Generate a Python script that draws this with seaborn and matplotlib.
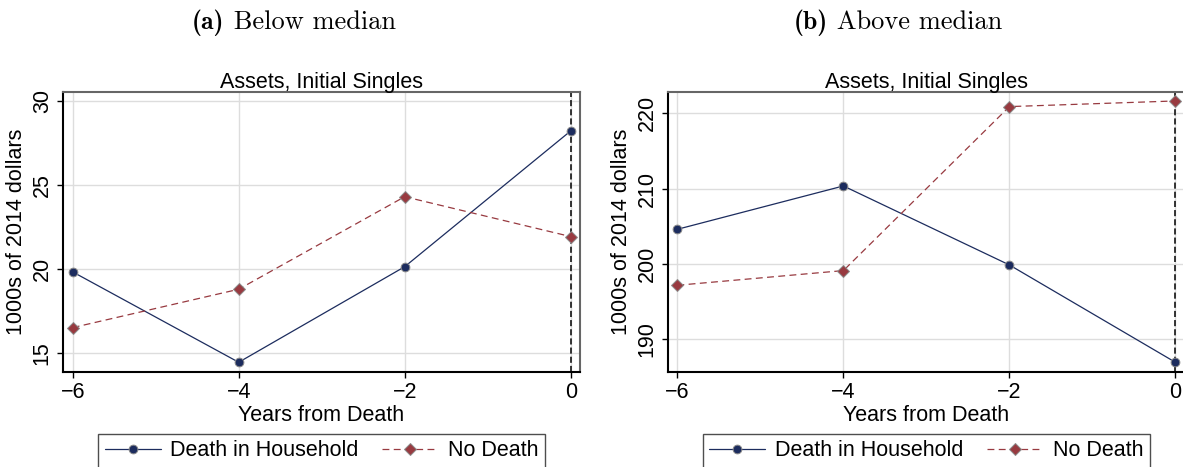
import numpy as np
import pandas as pd
import matplotlib
matplotlib.use('Agg')
import matplotlib.pyplot as plt
import seaborn as sns

# values
years = [-6, -4, -2, 0]
groups = ['Death in Household', 'No Death']

below_death = [19.84, 14.47, 20.15, 28.22]
below_nodeath = [16.53, 18.81, 24.31, 21.94]
above_death = [204.58, 210.34, 199.84, 186.9]
above_nodeath = [197.14, 199.09, 220.89, 221.64]

below_yticks = [15, 20, 25, 30]
above_yticks = [190, 200, 210, 220]
xticks = [-6, -4, -2, 0]

NAVY = '#1c2c5e'
MAROON = '#983a40'
FS = 15.5


def make_frame(death, nodeath):
    df = pd.DataFrame({
        'years': years * 2,
        'assets': death + nodeath,
        'group': [groups[0]] * len(years) + [groups[1]] * len(years),
    })
    return df


sns.set_style('white')
plt.rcParams['font.family'] = ['Liberation Sans', 'DejaVu Sans']
plt.rcParams['text.color'] = 'black'
plt.rcParams['axes.labelcolor'] = 'black'
plt.rcParams['xtick.color'] = 'black'
plt.rcParams['ytick.color'] = 'black'

fig = plt.figure(figsize=(11.83, 4.67), dpi=100)
W, H = 1183, 467
ax_w, ax_h = 517 / W, 280 / H
ax_b = (H - 371.7) / H
ax1 = fig.add_axes([63 / W, ax_b, ax_w, ax_h])
ax2 = fig.add_axes([667.7 / W, ax_b, ax_w, ax_h])

panels = [
    (ax1, make_frame(below_death, below_nodeath), below_yticks, (13.91, 30.55)),
    (ax2, make_frame(above_death, above_nodeath), above_yticks, (185.65, 222.87)),
]

for ax, df, yt, ylim in panels:
    ax.set_axisbelow(True)
    ax.grid(True, color='#dddddd', lw=1.0)
    sns.lineplot(data=df, x='years', y='assets', hue='group', style='group',
                 palette={groups[0]: NAVY, groups[1]: MAROON},
                 markers={groups[0]: 'o', groups[1]: 'D'},
                 dashes={groups[0]: '', groups[1]: (5.5, 3.5)},
                 markersize=6.3, markeredgecolor='#8c8c8c', markeredgewidth=0.7,
                 lw=0.9, ax=ax)
    ax.axvline(0, color='black', lw=1.1, ls=(0, (4, 2)), zorder=1.5)

    ax.set_xlim(-6.117, 0.112)
    ax.set_ylim(*ylim)
    ax.set_xticks(xticks)
    ax.set_yticks(yt)
    ax.tick_params(axis='both', direction='out', length=4.3, width=1, color='black',
                   labelcolor='black', labelsize=FS, left=True, bottom=True)
    ax.tick_params(axis='y', pad=3)
    ax.tick_params(axis='x', pad=3)
    for lab in ax.get_yticklabels():
        lab.set_rotation(90)
        lab.set_va('center')

    for s in ['left', 'bottom']:
        ax.spines[s].set_color('black')
        ax.spines[s].set_linewidth(1.5)
    for s in ['top', 'right']:
        ax.spines[s].set_color('#666666')
        ax.spines[s].set_linewidth(1.5)

    ax.set_title('Assets, Initial Singles', fontsize=FS, pad=2.7, color='black')
    ax.set_xlabel('Years from Death', fontsize=FS, color='black')
    ax.set_ylabel('1000s of 2014 dollars', fontsize=FS, color='black')
    ax.xaxis.set_label_coords(0.5, -0.119)
    ax.yaxis.set_label_coords(-0.0687, 0.5)

    handles, labels = ax.get_legend_handles_labels()
    ax.get_legend().remove()
    for h in handles:
        h.set_markeredgecolor('#8c8c8c')
        h.set_markeredgewidth(0.7)
    leg = ax.legend(handles, labels, loc='upper center', bbox_to_anchor=(0.5, -0.2225),
                    ncol=2, fontsize=FS, frameon=True, fancybox=False, shadow=False,
                    borderpad=0.3, handlelength=2.6, handletextpad=0.45,
                    columnspacing=1.1, borderaxespad=0, labelcolor='black')
    leg.get_frame().set_edgecolor('#222222')
    leg.get_frame().set_linewidth(1.0)

# subcaptions: bold "(a)" followed by roman text, centred as one line
renderer = fig.canvas.get_renderer()
for cx, tag, cap in [(294, '(a)', 'Below median'), (898, '(b)', 'Above median')]:
    t1 = fig.text(0, (H - 29) / H, tag, family='cmb10', fontsize=18.5,
                  ha='left', va='baseline', color='black')
    t2 = fig.text(0, (H - 29) / H, ' ' + cap, family='cmr10', fontsize=19,
                  ha='left', va='baseline', color='black')
    w1 = t1.get_window_extent(renderer).width
    w2 = t2.get_window_extent(renderer).width
    x0 = cx - (w1 + w2) / 2
    t1.set_x(x0 / W)
    t2.set_x((x0 + w1) / W)

fig.savefig('out.png', dpi=100)
